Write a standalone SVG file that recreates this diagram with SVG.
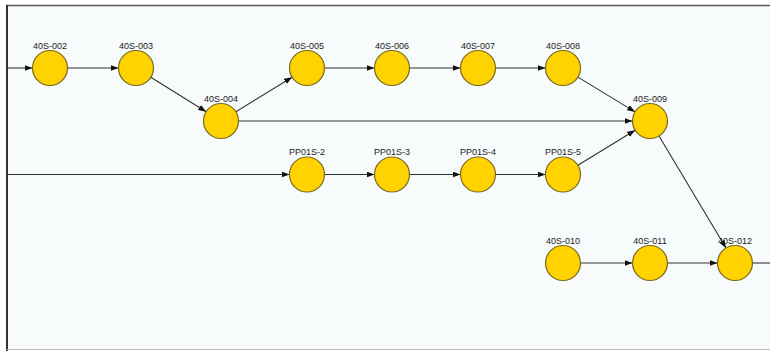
<svg xmlns="http://www.w3.org/2000/svg" width="770" height="351" viewBox="0 0 770 351">
<defs>
<marker id="arr" viewBox="0 0 8 6" refX="8" refY="3" markerWidth="8" markerHeight="6" markerUnits="userSpaceOnUse" orient="auto">
<path d="M0,0 L8,3 L0,6 Z" fill="#111"/>
</marker>
</defs>
<style>
.e{stroke:#333;stroke-width:1.1;fill:none}
.a{marker-end:url(#arr)}
.n{fill:#FFD200;stroke:#7a6a20;stroke-width:1.2}
.t{font-family:"Liberation Sans",Arial,sans-serif;font-size:9px;fill:#222;text-anchor:middle}
</style>
<rect x="0" y="0" width="770" height="351" fill="#ffffff"/>
<rect x="7" y="5.5" width="763" height="344" fill="#f8fbfb"/>
<g id="frame">
<line x1="6" y1="5.5" x2="770" y2="5.5" stroke="#555" stroke-width="1.5"/>
<line x1="7" y1="5" x2="7" y2="351" stroke="#333" stroke-width="2"/>
<line x1="7" y1="349.5" x2="770" y2="349.5" stroke="#bbb" stroke-width="1"/>
</g>
<g id="connectors">
<line class="e a" x1="7" y1="68" x2="32.5" y2="68"/>
<line class="e a" x1="67.5" y1="68" x2="118.5" y2="68"/>
<line class="e a" x1="150.8" y1="77.3" x2="206.2" y2="111.7"/>
<line class="e a" x1="235.9" y1="111.8" x2="292.1" y2="77.2"/>
<line class="e a" x1="238.5" y1="121" x2="632.5" y2="121"/>
<line class="e a" x1="324.5" y1="68" x2="374.5" y2="68"/>
<line class="e a" x1="409.5" y1="68" x2="460.5" y2="68"/>
<line class="e a" x1="495.5" y1="68" x2="545.5" y2="68"/>
<line class="e a" x1="577.9" y1="77.1" x2="635.1" y2="111.9"/>
<line class="e a" x1="7" y1="174.5" x2="289.5" y2="174.5"/>
<line class="e a" x1="324.5" y1="174.5" x2="374.5" y2="174.5"/>
<line class="e a" x1="409.5" y1="174.5" x2="460.5" y2="174.5"/>
<line class="e a" x1="495.5" y1="174.5" x2="545.5" y2="174.5"/>
<line class="e a" x1="577.9" y1="165.3" x2="635.1" y2="130.2"/>
<line class="e a" x1="659" y1="136" x2="726" y2="248"/>
<line class="e a" x1="580.5" y1="263" x2="632.5" y2="263"/>
<line class="e a" x1="667.5" y1="263" x2="717.5" y2="263"/>
<line class="e" x1="752.5" y1="263" x2="770" y2="263"/>
</g>
<g id="n40S-002"><circle class="n" cx="50" cy="68" r="17.5"/><text class="t" x="50" y="48.5">40S-002</text></g>
<g id="n40S-003"><circle class="n" cx="136" cy="68" r="17.5"/><text class="t" x="136" y="48.5">40S-003</text></g>
<g id="n40S-004"><circle class="n" cx="221" cy="121" r="17.5"/><text class="t" x="221" y="101.5">40S-004</text></g>
<g id="n40S-005"><circle class="n" cx="307" cy="68" r="17.5"/><text class="t" x="307" y="48.5">40S-005</text></g>
<g id="n40S-006"><circle class="n" cx="392" cy="68" r="17.5"/><text class="t" x="392" y="48.5">40S-006</text></g>
<g id="n40S-007"><circle class="n" cx="478" cy="68" r="17.5"/><text class="t" x="478" y="48.5">40S-007</text></g>
<g id="n40S-008"><circle class="n" cx="563" cy="68" r="17.5"/><text class="t" x="563" y="48.5">40S-008</text></g>
<g id="n40S-009"><circle class="n" cx="650" cy="121" r="17.5"/><text class="t" x="650" y="101.5">40S-009</text></g>
<g id="nPP01S-2"><circle class="n" cx="307" cy="174.5" r="17.5"/><text class="t" x="307" y="155">PP01S-2</text></g>
<g id="nPP01S-3"><circle class="n" cx="392" cy="174.5" r="17.5"/><text class="t" x="392" y="155">PP01S-3</text></g>
<g id="nPP01S-4"><circle class="n" cx="478" cy="174.5" r="17.5"/><text class="t" x="478" y="155">PP01S-4</text></g>
<g id="nPP01S-5"><circle class="n" cx="563" cy="174.5" r="17.5"/><text class="t" x="563" y="155">PP01S-5</text></g>
<g id="n40S-010"><circle class="n" cx="563" cy="263" r="17.5"/><text class="t" x="563" y="243.5">40S-010</text></g>
<g id="n40S-011"><circle class="n" cx="650" cy="263" r="17.5"/><text class="t" x="650" y="243.5">40S-011</text></g>
<g id="n40S-012"><circle class="n" cx="735" cy="263" r="17.5"/><text class="t" x="735" y="243.5">40S-012</text></g>
</svg>
